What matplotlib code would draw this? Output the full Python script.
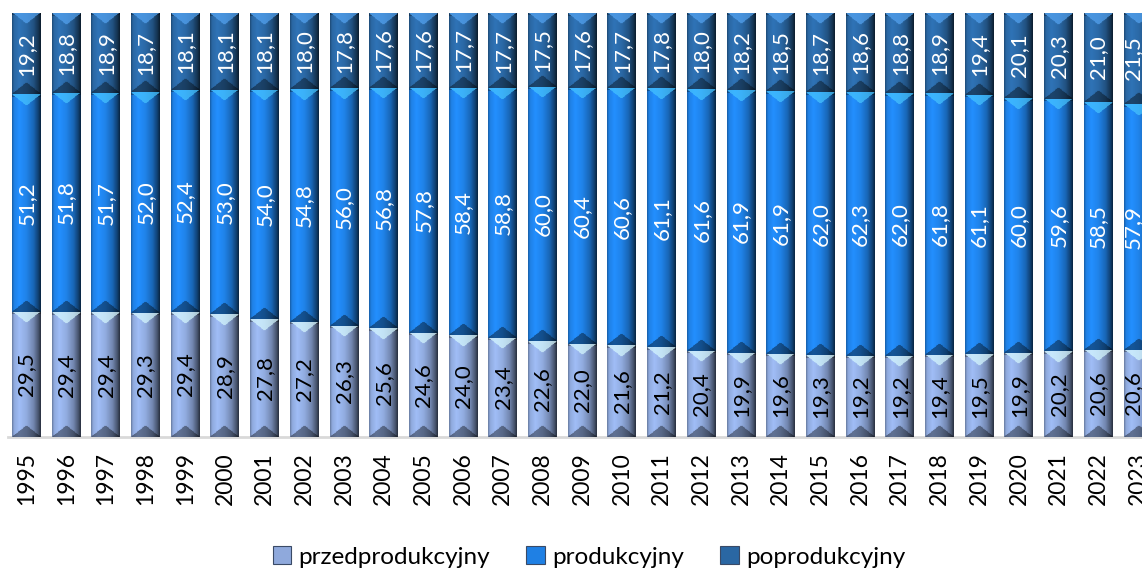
import numpy as np
import matplotlib
matplotlib.use('Agg')
import matplotlib.pyplot as plt
from matplotlib.patches import Patch
from matplotlib.colors import to_rgb

# data: age structure (%) by year
years = list(range(1995, 2024))
przedprod = [29.5, 29.4, 29.4, 29.3, 29.4, 28.9, 27.8, 27.2, 26.3, 25.6, 24.6, 24.0, 23.4, 22.6, 22.0,
             21.6, 21.2, 20.4, 19.9, 19.6, 19.3, 19.2, 19.2, 19.4, 19.5, 19.9, 20.2, 20.6, 20.6]
prod = [51.2, 51.8, 51.7, 52.0, 52.4, 53.0, 54.0, 54.8, 56.0, 56.8, 57.8, 58.4, 58.8, 60.0, 60.4,
        60.6, 61.1, 61.6, 61.9, 61.9, 62.0, 62.3, 62.0, 61.8, 61.1, 60.0, 59.6, 58.5, 57.9]
poprod = [19.2, 18.8, 18.9, 18.7, 18.1, 18.1, 18.1, 18.0, 17.8, 17.6, 17.6, 17.7, 17.7, 17.5, 17.6,
          17.7, 17.8, 18.0, 18.2, 18.5, 18.7, 18.6, 18.8, 18.9, 19.4, 20.1, 20.3, 21.0, 21.5]

series_names = ['przedprodukcyjny', 'produkcyjny', 'poprodukcyjny']
colors = ['#8FA9DC', '#1F80E4', '#2A67A3']
text_colors = ['black', 'white', 'white']

plt.rcParams['font.family'] = ['Lato', 'DejaVu Sans']

W, H = 1142, 571
fig = plt.figure(figsize=(W / 100, H / 100), dpi=100)
ax = fig.add_axes([8 / W, 134 / H, 1134 / W, 424 / H])

df_vals = np.array([przedprod, prod, poprod])
totals = df_vals.sum(axis=0)
shares = df_vals / totals * 100

x = np.arange(len(years))
px_per_unit = 424 / 100.0


def bevel_image(color, h_units, ncols=40):
    # horizontal shading + top light / bottom dark chevrons
    nrows = max(int(h_units * px_per_unit), 4)
    t = np.linspace(0, 1, ncols)
    m = np.interp(t, [0, 0.06, 0.25, 0.5, 0.75, 0.92, 1.0], [0.75, 1.0, 1.12, 1.02, 0.8, 0.5, 0.3])
    base = np.array(to_rgb(color))
    img = np.clip(base[None, None, :] * m[None, :, None], 0, 1).repeat(nrows, axis=0)
    rows = np.arange(nrows)[:, None]
    depth = 11 * (1 - np.abs(2 * t - 1))[None, :]
    top = rows < depth
    bot = (nrows - 1 - rows) < depth
    edge_top = rows < 3
    light = np.clip(base * 1.3 + 0.12, 0, 1)
    img[top] = img[top] * 0.3 + light * 0.7
    img[bot] = img[bot] * 0.6
    img[edge_top & ~top] = img[edge_top & ~top] * 0.7
    return img


bottom = np.zeros(len(years))
for i, name in enumerate(series_names):
    bars = ax.bar(x, shares[i], width=0.73, bottom=bottom, color=colors[i], zorder=2, label=name)
    for p in bars.patches:
        ax.imshow(bevel_image(colors[i], p.get_height()),
                  extent=(p.get_x(), p.get_x() + p.get_width(), p.get_y(), p.get_y() + p.get_height()),
                  aspect='auto', interpolation='bilinear', zorder=3)
    lbls = [f'{v:.1f}'.replace('.', ',') for v in df_vals[i]]
    ax.bar_label(bars, labels=lbls, label_type='center', rotation=90,
                 color=text_colors[i], fontsize=16, zorder=4)
    bottom += shares[i]

ax.axhline(0, color='#d9d9d9', lw=2, zorder=1, clip_on=False)

ax.set_xlim(-0.466, 28.1)
ax.set_ylim(0, 100)
ax.set_xticks(x)
ax.set_xticklabels([str(y) for y in years], rotation=90, fontsize=16.5)
ax.tick_params(axis='x', length=0, pad=11)
ax.set_yticks([])
for s in ax.spines.values():
    s.set_visible(False)

handles = [Patch(facecolor=c, edgecolor='#3a4a66', linewidth=0.8) for c in colors]
fig.legend(handles, series_names, loc='center', bbox_to_anchor=(589 / W, 1 - 557 / H), ncol=3,
           frameon=False, fontsize=17.5, handlelength=0.75, handleheight=0.75,
           handletextpad=0.3, columnspacing=1.5)

fig.savefig('out.png', dpi=100)
